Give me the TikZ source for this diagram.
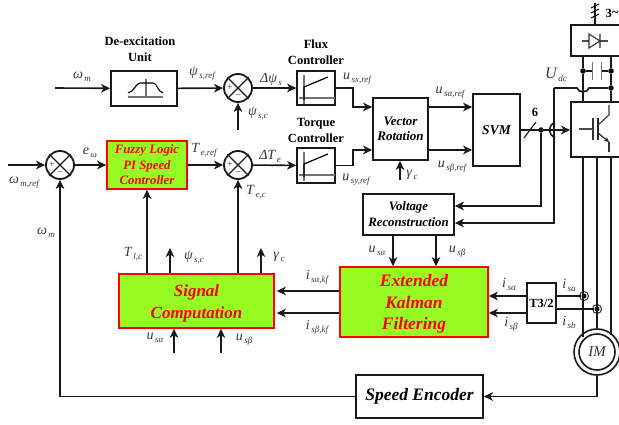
\documentclass[tikz,border=0pt]{standalone}
\usepackage{fontspec}
\setmainfont{Liberation Serif}
\usetikzlibrary{arrows.meta,calc}
\definecolor{lim}{RGB}{150,250,35}
\definecolor{lab}{RGB}{55,55,55}
\newcommand\lb[2]{{\itshape #1\raisebox{-3pt}{\fontsize{9}{9}\selectfont\,#2}}}
\tikzset{
 conn/.style={line width=1.6pt,draw=black!90},
 arr/.style={conn,-{Stealth[length=9pt,width=8.5pt,inset=2.5pt]}},
 boxn/.style={draw=black!90,line width=1.7pt,fill=white,inner sep=0pt,align=center},
 hot/.style={draw=red,line width=1.6pt,fill=lim,inner sep=0pt,align=center,text=red},
 lbl/.style={text=lab,inner sep=0pt,font=\fontsize{14}{14}\selectfont},
 ttl/.style={inner sep=0pt,align=center,font=\fontsize{12.5}{16}\selectfont\bfseries},
 sumn/.style={draw=black!90,line width=1.8pt,circle,fill=white,minimum size=28pt,inner sep=0pt},
 dotn/.style={fill=black,circle,minimum size=5.5pt,inner sep=0pt},
 gr/.style={draw=black!55,line width=1.1pt},
 sgn/.style={inner sep=0pt,text=black!75,font=\fontsize{10}{10}\selectfont},
}
\newcommand\sumat[3]{%
 \node[sumn] (#1) at (#2,#3) {};
 \draw[line width=1.3pt,black!90] (#1.45)--(#1.225) (#1.135)--(#1.315);
 \node[sgn] (#1p) at ([xshift=-8pt]#1.center) {+};
 \node[sgn] (#1m) at ([yshift=-8pt]#1.center) {--};
}
\begin{document}
\begin{tikzpicture}[x=1pt,y=-1pt]
\clip (0,0) rectangle (619,425);
\fill[white] (0,0) rectangle (619,425);
% free ends
\coordinate (wmin) at (55,88);
\coordinate (psiin) at (238,130);
\coordinate (wrefin) at (8,165);
\coordinate (gamin) at (400,180);
\coordinate (acin) at (595,3);
\coordinate (psiout) at (170,248);
\coordinate (gamout) at (261,248);
\coordinate (ua) at (174,353);
\coordinate (ub) at (221,353);
% boxes
\node[boxn,minimum width=66pt,minimum height=35pt] (de) at (144,88.5) {};
\node[boxn,minimum width=38pt,minimum height=34pt] (flux) at (316,88) {};
\node[boxn,minimum width=38pt,minimum height=35pt] (torq) at (316,165.5) {};
\node[boxn,minimum width=55pt,minimum height=62pt,font=\fontsize{13}{15.5}\selectfont\bfseries\itshape] (vr) at (400.5,129) {Vector\\Rotation};
\node[boxn,minimum width=47pt,minimum height=72pt,font=\fontsize{13.5}{14}\selectfont\bfseries\itshape] (svm) at (496.5,130) {SVM};
\node[boxn,minimum width=60pt,minimum height=31pt] (rect) at (601,40.5) {};
\node[boxn,minimum width=60pt,minimum height=55pt] (inv) at (601,129.5) {};
\node[boxn,minimum width=91pt,minimum height=41pt,font=\fontsize{12.8}{16}\selectfont\bfseries\itshape] (rec) at (408.5,214.5) {Voltage\\Reconstruction};
\node[hot,minimum width=80pt,minimum height=48pt,font=\fontsize{12.8}{15.5}\selectfont\bfseries\itshape] (fuz) at (147,165) {Fuzzy Logic\\PI Speed\\Controller};
\node[hot,minimum width=155pt,minimum height=54pt,font=\fontsize{17}{22}\selectfont\bfseries\itshape] (sig) at (196.5,301) {\rule{0pt}{16pt}Signal\\Computation};
\node[hot,minimum width=148pt,minimum height=70pt,font=\fontsize{17.5}{21.5}\selectfont\bfseries\itshape] (ekf) at (414,302) {\rule{0pt}{16pt}Extended\\Kalman\\Filtering};
\node[boxn,minimum width=29pt,minimum height=40pt,font=\fontsize{12.5}{12}\selectfont\bfseries] (t32) at (541.5,303) {T3/2};
\node[boxn,minimum width=127pt,minimum height=43pt,font=\fontsize{17.5}{18}\selectfont\bfseries\itshape] (enc) at (419.5,396.5) {Speed Encoder};
% sums
\sumat{s1}{238}{88}
\sumat{s2}{238}{165}
\sumat{s3}{60}{165}
% motor
\node[draw=black!90,line width=1.6pt,circle,minimum size=46pt,inner sep=0pt,fill=white] (im) at (597,352) {};
\node[draw=black!90,line width=1.6pt,circle,minimum size=36pt,inner sep=0pt,font=\fontsize{15}{15}\selectfont\itshape,text=lab] (imi) at (597,352) {IM};
% junctions
\node[dotn] (j6) at (541,130) {};
\node[dotn] (c1) at (583,71) {};
\node[dotn] (c2) at (611,71) {};
\node[dotn] (c3) at (611,88) {};
\node[dotn,minimum size=5pt] (ia) at (584,296) {};
\node[dotn,minimum size=5pt] (ib) at (597,309) {};
\draw[line width=1pt,black!80] (ia) circle (4.5pt) (ib) circle (4.5pt);
\coordinate (ud) at (554,88);
% connectors top row
\draw[arr] (wmin)--(de);
\draw[arr] (de)--(s1);
\draw[arr] (s1)--(flux);
\draw[arr] (psiin)--(s1);
\draw[arr] (wrefin)--(s3);
\draw[arr] (s3)--(fuz);
\draw[arr] (fuz)--(s2);
\draw[arr] (s2)--(torq);
\draw[arr] (flux.east) -| (353,107) -- (vr.west |- 0,107);
\draw[arr] (torq.east) -| (353,150) -- (vr.west |- 0,150);
\draw[arr] (vr.east |- 0,107) -- (svm.west |- 0,107);
\draw[arr] (vr.east |- 0,150) -- (svm.west |- 0,150);
\draw[arr] (gamin)--(vr.south -| gamin);
% dc bus
\draw[conn] (rect.south -| c1) -- (c1) -- (inv.north -| c1);
\draw[conn] (rect.south -| c2) -- (c2) -- (c3) -- (inv.north -| c3);
\draw[conn] (c1)--(592.5,71);
\draw[conn] (c2)--(601.5,71);
\draw[gr,line width=1.3pt] (592.5,62)--(592.5,80) (601.5,62)--(601.5,80);
\draw[arr] (ud) |- (rec.east |- 0,223);
\draw[conn] (ud) -- (577,88) .. controls (578,93) and (588,93) .. (589,88) -- (c3);
% svm out
\draw[arr] (svm.east |- j6) -- (inv.west |- j6);
\draw[conn] (555,123) .. controls (548,124) and (548,136) .. (555,137);
\draw[line width=1.1pt,black!90] (524,138)--(536,122);
\draw[arr] (j6) |- (rec.east |- 0,206);
% ac in
\draw[conn] (acin)--(rect.north -| acin);
\draw[line width=1pt] (591,8)--(599,4) (591,13)--(599,9) (591,18)--(599,14);
% recon to ekf
\draw[arr] (rec.south -| 393,0) -- (ekf.north -| 393,0);
\draw[arr] (rec.south -| 436,0) -- (ekf.north -| 436,0);
% t32
\draw[arr] (t32.west |- 0,296) -- (ekf.east |- 0,296);
\draw[arr] (t32.west |- 0,313) -- (ekf.east |- 0,313);
\draw[conn] (t32.east |- ia) -- (ia);
\draw[conn] (t32.east |- ib) -- (ib);
% motor rails
\draw[conn] (inv.south -| 583,0) -- (583,337);
\draw[conn] (inv.south -| ib) -- (im.north);
\draw[conn] (inv.south -| 611,0) -- (611,335);
% ekf to signal
\draw[arr] (ekf.west |- 0,291) -- ([xshift=2pt]sig.east |- 0,291);
\draw[arr] (ekf.west |- 0,313) -- ([xshift=2pt]sig.east |- 0,313);
% signal
\draw[arr] (sig.north -| fuz.south) -- (fuz.south);
\draw[arr] (sig.north -| s2) -- (s2);
\draw[arr] (sig.north -| psiout) -- (psiout);
\draw[arr] (sig.north -| gamout) -- (gamout);
\draw[arr] (ua) -- (sig.south -| ua);
\draw[arr] (ub) -- (sig.south -| ub);
% encoder
\draw[arr] (im.south) |- (enc.east);
\draw[arr] (enc.west) -| (s3.south);
% icons
\draw[gr] (146,79)--(146,98) (128,97)--(163,97);
\draw[line width=1.1pt] (128,93) .. controls (134,92) and (136,83) .. (140,83) -- (153,83) .. controls (157,83) and (158,92) .. (163,93);
\draw[gr] (304,75)--(304,104) (299,98)--(335,98);
\draw[line width=1.2pt] (304,100)--(304,87)--(328,77);
\draw[gr] (304,152)--(304,181) (299,175)--(335,175);
\draw[line width=1.2pt] (304,177)--(304,164)--(328,154);
% diode
\draw[gr,black!70] (582,41)--(589,41) (600,41)--(608,41);
\draw[line width=1.1pt,black!80] (589,34)--(589,48)--(600,41)--cycle (600,34)--(600,48);
% igbt
\draw[gr,black!70] (579,129)--(593,129);
\draw[line width=1.2pt,black!80] (593,118)--(593,140);
\draw[line width=1.5pt,black!85] (598,118)--(598,140);
\draw[gr,black!80] (598,125)--(609,115)--(609,105);
\draw[line width=1.2pt,black!85,-{Stealth[length=5pt,width=5pt]}] (598,133)--(609,142);
\draw[gr,black!80] (609,142)--(609,152);
% titles
\node[ttl] (t1) at (140,49) {De-excitation\\Unit};
\node[ttl] (t2) at (316,52) {Flux\\Controller};
\node[ttl] (t3) at (316,130) {Torque\\Controller};
\node[inner sep=0pt,font=\fontsize{12.5}{12.5}\selectfont\bfseries] (six) at (535,112) {6};
\node[inner sep=0pt,font=\fontsize{12.5}{12.5}\selectfont\bfseries] (tac) at (612,13) {3\raisebox{1pt}{\textasciitilde}};
% labels
\node[lbl] (l1) at (82,77) {\lb{ω}{m}};
\node[lbl] (l2) at (202,74) {\lb{ψ}{s,ref}};
\node[lbl] (l3) at (271,79) {\lb{Δψ}{s}};
\node[lbl] (l4) at (258,113) {\lb{ψ}{s,c}};
\node[lbl] (l5) at (90,153) {\lb{e}{ω}};
\node[lbl] (l6) at (24,183) {\lb{ω}{m,ref}};
\node[lbl] (l7) at (204,150) {\lb{T}{e,ref}};
\node[lbl] (l8) at (270,156) {\lb{ΔT}{e}};
\node[lbl] (l9) at (256,192) {\lb{T}{e,c}};
\node[lbl] (l10) at (357,79) {\lb{u}{sx,ref}};
\node[lbl] (l11) at (356,180) {\lb{u}{sy,ref}};
\node[lbl] (l12) at (450,93) {\lb{u}{sα,ref}};
\node[lbl] (l13) at (452,167) {\lb{u}{sβ,ref}};
\node[lbl] (l14) at (412,175) {\lb{γ}{c}};
\node[lbl,font=\fontsize{16}{16}\selectfont] (l15) at (556,75) {\lb{U}{dc}};
\node[lbl] (l16) at (377,251) {\lb{u}{sα}};
\node[lbl] (l17) at (457,252) {\lb{u}{sβ}};
\node[lbl] (l18) at (509,284) {\lb{i}{sα}};
\node[lbl] (l19) at (511,324) {\lb{i}{sβ}};
\node[lbl] (l20) at (569,285) {\lb{i}{sa}};
\node[lbl] (l21) at (569,322) {\lb{i}{sb}};
\node[lbl] (l22) at (46,233) {\lb{ω}{m}};
\node[lbl] (l23) at (133,254) {\lb{T}{l,c}};
\node[lbl] (l24) at (194,257) {\lb{ψ}{s,c}};
\node[lbl] (l25) at (279,257) {\lb{γ}{c}};
\node[lbl] (l26) at (317,277) {\lb{i}{sα,kf}};
\node[lbl] (l27) at (317,327) {\lb{i}{sβ,kf}};
\node[lbl] (l28) at (155,338) {\lb{u}{sα}};
\node[lbl] (l29) at (244,340) {\lb{u}{sβ}};
\end{tikzpicture}
\end{document}
